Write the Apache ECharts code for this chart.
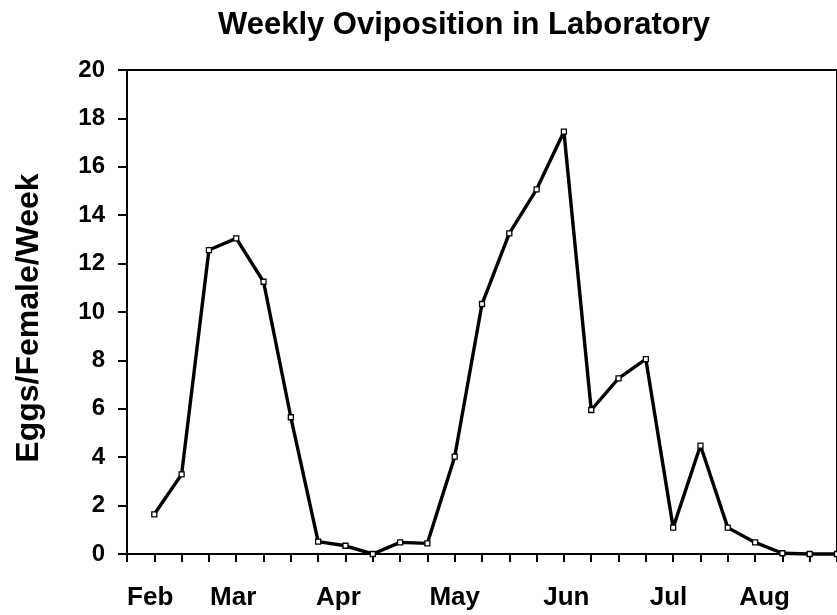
<!DOCTYPE html>
<html>
<head>
<meta charset="utf-8">
<script src="https://cdn.jsdelivr.net/npm/echarts@6/dist/echarts.min.js"></script>
<style>html,body{margin:0;padding:0;background:#fff}#c{width:837px;height:615px}</style>
</head>
<body>
<div id="c"></div>
<script>
var weekIndex = [1,2,3,4,5,6,7,8,9,10,11,12,13,14,15,16,17,18,19,20,21,22,23,24,25,26];
var eggsPerFemale = [1.64,3.29,12.56,13.04,11.25,5.65,0.51,0.34,0,0.48,0.44,4.02,10.33,13.25,15.07,17.45,5.95,7.26,8.05,1.09,4.48,1.09,0.48,0.03,0,0];
var monthLabels = ['Feb','Mar','Apr','May','Jun','Jul','Aug'];
var monthPositions = [0.85,3.89,7.74,12.0,16.09,19.83,23.35];
var yTicks = [0,2,4,6,8,10,12,14,16,18,20];

var FONT = '"Liberation Sans", Arial, sans-serif';
var data = weekIndex.map(function(w,i){return [w, eggsPerFemale[i]];});

var chart = echarts.init(document.getElementById('c'));
chart.setOption({
  backgroundColor:'#fff',
  animation:false,
  title:{
    text:'Weekly Oviposition in Laboratory',
    left:459, top:5, textAlign:'center',
    textStyle:{fontFamily:FONT,fontWeight:'bold',fontSize:31,color:'#000'}
  },
  grid:{left:127, top:70, width:713.4, height:484, show:true, borderColor:'#000', borderWidth:2, backgroundColor:'transparent'},
  xAxis:[{
    type:'value', min:0, max:26, interval:1,
    axisLine:{show:true,onZero:false,lineStyle:{color:'#000',width:2}},
    axisTick:{show:true,inside:false,length:8,lineStyle:{color:'#000',width:2}},
    axisLabel:{show:false},
    splitLine:{show:false}
  },{
    type:'value', min:0, max:26, position:'bottom',
    axisLine:{show:false}, axisTick:{show:false}, splitLine:{show:false},
    axisLabel:{
      show:true, customValues:monthPositions, margin:31,
      fontFamily:FONT, fontWeight:'bold', fontSize:26, color:'#000',
      formatter:function(v){
        var best=0,d=1e9;
        for(var i=0;i<monthPositions.length;i++){var dd=Math.abs(monthPositions[i]-v); if(dd<d){d=dd;best=i;}}
        return monthLabels[best];
      }
    }
  }],
  yAxis:{
    type:'value', min:0, max:20, interval:2,
    name:'Eggs/Female/Week', nameLocation:'middle', nameRotate:90, nameGap:82,
    nameTextStyle:{fontFamily:FONT,fontWeight:'bold',fontSize:32,color:'#000',padding:[0,12,0,0]},
    axisLine:{show:true,lineStyle:{color:'#000',width:2}},
    axisTick:{show:true,inside:false,length:9,lineStyle:{color:'#000',width:2}},
    axisLabel:{margin:22,fontFamily:FONT,fontWeight:'bold',fontSize:24,color:'#000',
      formatter:function(v){return yTicks.indexOf(v)>=0?String(v):'';}},
    splitLine:{show:false}
  },
  series:[{
    type:'line', xAxisIndex:0, data:data,
    symbol:'rect', symbolSize:5, showAllSymbol:true,
    lineStyle:{color:'#000',width:3.4},
    itemStyle:{color:'#fff',borderColor:'#000',borderWidth:1.3},
    clip:false
  }]
});
</script>
</body>
</html>
